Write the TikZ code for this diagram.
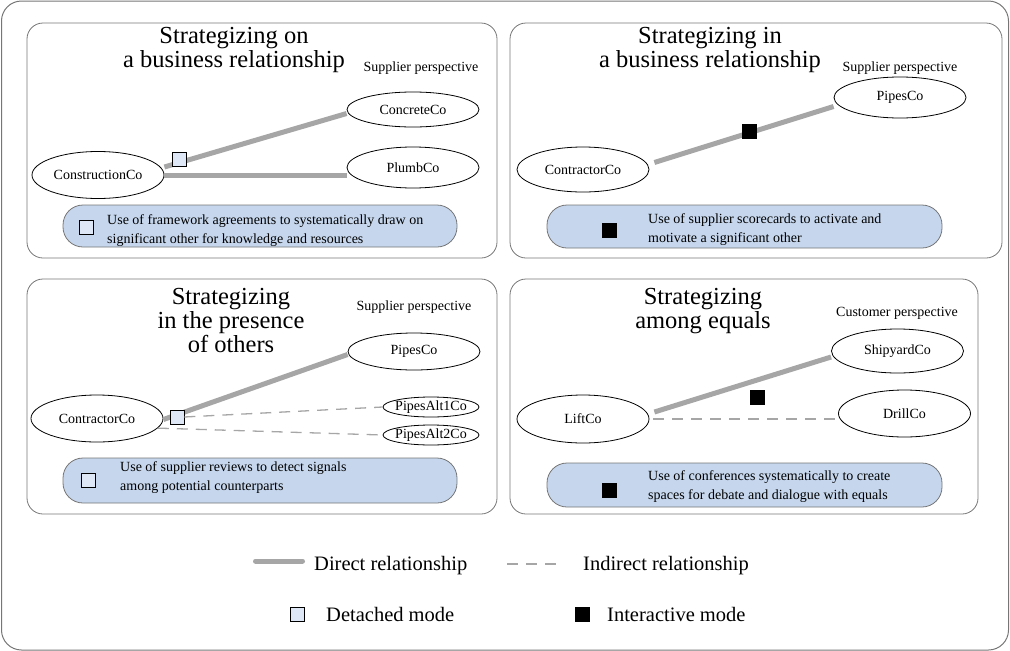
\documentclass[tikz,border=0pt]{standalone}
\usepackage{fontspec}
\setmainfont{Liberation Serif}
\usetikzlibrary{shapes.geometric}
\definecolor{linegray}{RGB}{166,166,166}
\definecolor{framegray}{RGB}{118,118,118}
\definecolor{noteblue}{RGB}{197,214,237}
\definecolor{paleblue}{RGB}{222,231,245}

\begin{document}
\begin{tikzpicture}[x=1pt, y=-1pt,
    firm/.style={ellipse, draw, line width=0.8pt, inner sep=0pt, font=\fontsize{14}{16}\selectfont},
    panel/.style={draw=framegray, line width=0.8pt, rounded corners=16pt},
    title/.style={align=center, inner sep=0pt, font=\fontsize{24.5}{22}\selectfont},
    view/.style={inner sep=0pt, font=\fontsize{14}{16}\selectfont},
    note/.style={draw=framegray, line width=0.8pt, fill=noteblue, rounded corners=20pt},
    notetext/.style={anchor=west, align=left, inner sep=0pt, font=\fontsize{14}{19}\selectfont},
    detached/.style={draw, line width=0.7pt, fill=paleblue, minimum size=14pt, inner sep=0pt},
    interactive/.style={draw, line width=0.7pt, fill=black, minimum size=14pt, inner sep=0pt},
    direct/.style={draw=linegray, line width=5pt},
    indirect/.style={draw=linegray, line width=1.3pt, dash pattern=on 11pt off 8pt},
    legend/.style={anchor=base west, inner sep=0pt, font=\fontsize{20.5}{24}\selectfont}]

    \useasboundingbox (0,0) rectangle (1010,651);
    \draw[framegray, line width=1pt, rounded corners=20pt] (1.5,1) rectangle (1008.5,650);

    \draw[panel] (27,23) rectangle (497,258);
    \node[title] (t1) at (234,50) {Strategizing on\\a business relationship};
    \node[view] (v1) at (421,68) {Supplier perspective};
    \node[firm, minimum width=132pt, minimum height=47pt] (construction) at (98,175) {ConstructionCo};
    \node[firm, minimum width=132pt, minimum height=35pt] (concrete) at (413,109.5) {ConcreteCo};
    \node[firm, minimum width=132pt, minimum height=41pt] (plumb) at (413,167.5) {PlumbCo};
    \path ([yshift=8pt]construction.east) edge[direct] ([yshift=-4pt]concrete.west)
        (construction.east) edge[direct] (construction.east -| plumb.west);
    \node[detached] (d1) at (179,159) {};
    \draw[note] (63,205) rectangle (457,247);
    \node[detached] (nd1) at (86,227) {};
    \node[notetext] (n1) at (107,231) {Use of framework agreements to systematically draw on\\significant other for knowledge and resources};

    \draw[panel] (510,23) rectangle (1002,258);
    \node[title] (t2) at (710,50) {Strategizing in\\a business relationship};
    \node[view] (v2) at (900,68) {Supplier perspective};
    \node[firm, minimum width=132pt, minimum height=45pt] (contractor) at (583,169.5) {ContractorCo};
    \node[firm, minimum width=132pt, minimum height=41pt] (pipes) at (900,97.5) {PipesCo};
    \path ([xshift=5pt,yshift=7pt]contractor.east) edge[direct] ([yshift=-9pt]pipes.west);
    \node[interactive] (i2) at (749,131) {};
    \draw[note] (547,205) rectangle (942,248);
    \node[interactive] (ni2) at (609,230) {};
    \node[notetext] (n2) at (648,230) {Use of supplier scorecards to activate and\\motivate a significant other};

    \draw[panel] (27,279) rectangle (497,514);
    \node[title, font=\fontsize{24.5}{24}\selectfont] (t3) at (231,321) {Strategizing\\in the presence\\of others};
    \node[view] (v3) at (414,307) {Supplier perspective};
    \node[firm, minimum width=132pt, minimum height=47pt] (contractor3) at (97,418.5) {ContractorCo};
    \node[firm, minimum width=132pt, minimum height=37pt] (pipes3) at (414,351.5) {PipesCo};
    \node[firm, inner xsep=-10pt, minimum width=96pt, minimum height=20pt] (alt1) at (431,407) {PipesAlt1Co};
    \node[firm, inner xsep=-10pt, minimum width=96pt, minimum height=20pt] (alt2) at (431,435) {PipesAlt2Co};
    \path ([yshift=-1pt]contractor3.east) edge[direct] ([yshift=-3pt]pipes3.west);
    \node[detached] (d3) at (177,417) {};
    \path (d3.east) edge[indirect] (alt1.west)
        (contractor3.-9) edge[indirect] (alt2.west);
    \draw[note] (63,458) rectangle (457,503);
    \node[detached] (nd3) at (88,480) {};
    \node[notetext] (n3) at (120,478) {Use of supplier reviews to detect signals\\among potential counterparts};

    \draw[panel] (510,279) rectangle (978,514);
    \node[title] (t4) at (703,311) {Strategizing\\among equals};
    \node[view] (v4) at (897,313) {Customer perspective};
    \node[firm, minimum width=132pt, minimum height=48pt] (lift) at (583,419) {LiftCo};
    \node[firm, minimum width=132pt, minimum height=44pt] (shipyard) at (897.5,351) {ShipyardCo};
    \node[firm, minimum width=132pt, minimum height=47pt] (drill) at (904.5,413.5) {DrillCo};
    \path ([xshift=5pt,yshift=7pt]lift.east) edge[direct] ([yshift=-6pt]shipyard.west)
        ([xshift=4pt]lift.east) edge[indirect] (lift.east -| drill.west);
    \node[interactive] (i4) at (757,397) {};
    \draw[note] (547,463) rectangle (942,507);
    \node[interactive] (ni4) at (609,490) {};
    \node[notetext] (n4) at (648,487) {Use of conferences systematically to create\\spaces for debate and dialogue with equals};

    \coordinate (dirA) at (255.5,561);
    \coordinate (dirB) at (302.5,561);
    \path (dirA) edge[direct, line cap=round] (dirB);
    \node[legend] (ldirect) at (314,570) {Direct relationship};
    \coordinate (indA) at (507,564);
    \coordinate (indB) at (558,564);
    \path (indA) edge[indirect] (indB);
    \node[legend] (lindirect) at (583,570) {Indirect relationship};
    \node[detached] (ldet) at (297,614) {};
    \node[legend] (ldettext) at (326,621) {Detached mode};
    \node[interactive] (lint) at (582,614) {};
    \node[legend] (linttext) at (607,621) {Interactive mode};
\end{tikzpicture}
\end{document}
